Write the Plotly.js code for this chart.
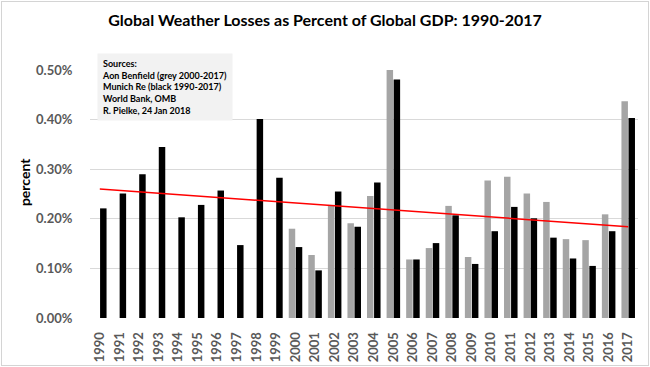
<!DOCTYPE html>
<html>
<head>
<meta charset="utf-8">
<script src="https://cdn.plot.ly/plotly-3.0.1.min.js"></script>
<style>
  html, body { margin: 0; padding: 0; background: #fff; }
  #wrap { position: relative; width: 650px; height: 367px; }
  #chart { width: 650px; height: 367px; }
  #frame { position: absolute; left: 1px; top: 1px; width: 646px; height: 363px; border: 1px solid #d4d4d4; pointer-events: none; }
</style>
</head>
<body>
<div id="wrap"><div id="chart"></div><div id="frame"></div></div>
<script>
// Data (percent of global GDP)
const years = ['1990','1991','1992','1993','1994','1995','1996','1997','1998','1999',
  '2000','2001','2002','2003','2004','2005','2006','2007','2008','2009',
  '2010','2011','2012','2013','2014','2015','2016','2017'];
// Aon Benfield (grey, 2000-2017)
const aonBenfield = [null,null,null,null,null,null,null,null,null,null,
  0.180,0.127,0.228,0.191,0.246,0.500,0.118,0.141,0.226,0.123,
  0.277,0.285,0.251,0.234,0.159,0.157,0.209,0.437];
// Munich Re (black, 1990-2017)
const munichRe = [0.221,0.251,0.290,0.345,0.203,0.228,0.257,0.147,0.401,0.283,
  0.143,0.096,0.255,0.184,0.273,0.481,0.118,0.151,0.207,0.109,
  0.175,0.224,0.201,0.162,0.120,0.105,0.175,0.403];
// Trend line end points
const trendYears = ['1990','2017'];
const trendValues = [0.260,0.184];
const yTicks = [0,0.1,0.2,0.3,0.4,0.5];
const yTickLabels = ['0.00%','0.10%','0.20%','0.30%','0.40%','0.50%'];

const FONT = 'Lato, "Open Sans", sans-serif';

const traces = [
  { type:'bar', x: years, y: aonBenfield, name:'Aon Benfield',
    marker:{color:'#a5a5a5'}, hoverinfo:'x+y' },
  { type:'bar', x: years, y: munichRe, name:'Munich Re',
    marker:{color:'#000000'}, hoverinfo:'x+y' },
  { type:'scatter', mode:'lines', x: trendYears, y: trendValues, name:'Trend',
    line:{color:'#ff0000', width:1.5}, hoverinfo:'skip' }
];

const layout = {
  width:650, height:367,
  margin:{l:90, r:12, t:70, b:49},
  paper_bgcolor:'#ffffff', plot_bgcolor:'#ffffff',
  showlegend:false,
  barmode:'group', bargap:0.28, bargroupgap:0.08,
  font:{family:FONT, color:'#595959'},
  title:{text:'Global Weather Losses as Percent of Global GDP: 1990-2017',
    font:{family:FONT, size:16, color:'#000000', weight:'bold'},
    x:0.5, xref:'container', xanchor:'center', y:0.945, yanchor:'middle'},
  xaxis:{type:'category', tickangle:-90, showgrid:false, zeroline:false, showline:false,
    ticks:'outside', ticklen:8, tickcolor:'rgba(0,0,0,0)',
    tickfont:{family:FONT, size:13, color:'#595959', weight:'bold'}},
  yaxis:{range:[0,0.5], tickvals:yTicks, ticktext:yTickLabels,
    showgrid:true, gridcolor:'#d9d9d9', gridwidth:1, zeroline:false, showline:false,
    ticks:'outside', ticklen:14, tickcolor:'rgba(0,0,0,0)',
    tickfont:{family:FONT, size:13, color:'#595959', weight:'bold'}},
  annotations:[{
    xref:'paper', yref:'paper', x:0.0128, y:1.069, xanchor:'left', yanchor:'top',
    text:'Sources:<br>Aon Benfield (grey 2000-2017)<br>Munich Re (black 1990-2017)<br>World Bank, OMB<br>R. Pielke, 24 Jan 2018',
    showarrow:false, align:'left', valign:'top',
    bgcolor:'#f2f2f2', borderpad:4, width:126,
    font:{family:FONT, size:9, color:'#000000', weight:'bold'}
  },{
    xref:'paper', yref:'paper', x:-0.1204, y:0.548, xanchor:'center', yanchor:'middle',
    text:'percent', textangle:-90, showarrow:false,
    font:{family:FONT, size:14, color:'#000000', weight:'bold'}
  }]
};

Plotly.newPlot('chart', traces, layout, {displayModeBar:false, staticPlot:true});
</script>
</body>
</html>
